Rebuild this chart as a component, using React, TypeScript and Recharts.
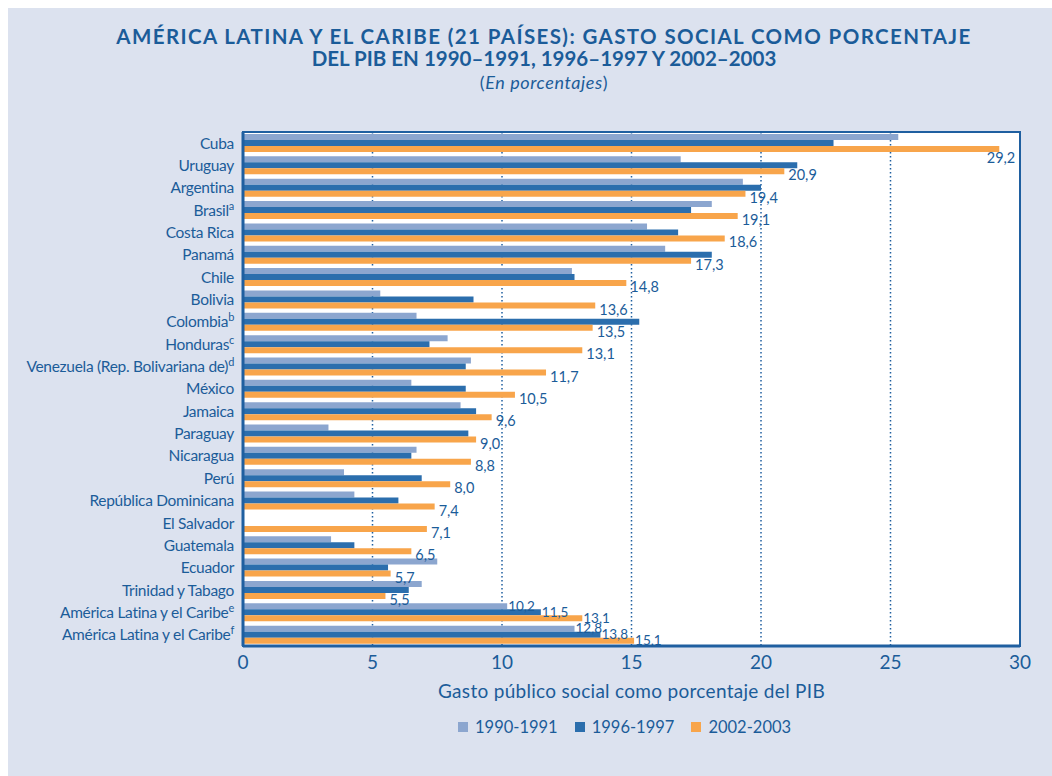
import React from 'react';
import { BarChart, Bar, XAxis, YAxis, CartesianGrid, LabelList, ReferenceArea } from 'recharts';

const countries = [
  'Cuba', 'Uruguay', 'Argentina', 'Brasil', 'Costa Rica', 'Panamá', 'Chile', 'Bolivia',
  'Colombia', 'Honduras', 'Venezuela (Rep. Bolivariana de)', 'México', 'Jamaica', 'Paraguay',
  'Nicaragua', 'Perú', 'República Dominicana', 'El Salvador', 'Guatemala', 'Ecuador',
  'Trinidad y Tabago', 'América Latina y el Caribe', 'América Latina y el Caribe',
];
const notes = ['', '', '', 'a', '', '', '', '', 'b', 'c', 'd', '', '', '', '', '', '', '', '', '', '', 'e', 'f'];

const gasto1990 = [25.3, 16.9, 19.3, 18.1, 15.6, 16.3, 12.7, 5.3, 6.7, 7.9, 8.8, 6.5, 8.4, 3.3, 6.7, 3.9, 4.3, null, 3.4, 7.5, 6.9, 10.2, 12.8];
const gasto1996 = [22.8, 21.4, 20.0, 17.3, 16.8, 18.1, 12.8, 8.9, 15.3, 7.2, 8.6, 8.6, 9.0, 8.7, 6.5, 6.9, 6.0, null, 4.3, 5.6, 6.4, 11.5, 13.8];
const gasto2002 = [29.2, 20.9, 19.4, 19.1, 18.6, 17.3, 14.8, 13.6, 13.5, 13.1, 11.7, 10.5, 9.6, 9.0, 8.8, 8.0, 7.4, 7.1, 6.5, 5.7, 5.5, 13.1, 15.1];

const seriesNames = ['1990-1991', '1996-1997', '2002-2003'];
const xTicks = [0, 5, 10, 15, 20, 25, 30];

const BLUE_TEXT = '#1b5c99';
const AXIS = '#1f5fa0';
const COLORS = ['#8ca6cf', '#2b6ead', '#f8a54b'];
const FONT = 'Lato, "Noto Sans", sans-serif';

// the two regional averages get a label on every series
const data = countries.map((name, i) => {
  const regional = notes[i] === 'e' || notes[i] === 'f';
  return {
    key: `${name}|${notes[i]}`,
    a: gasto1990[i],
    b: gasto1996[i],
    c: gasto2002[i],
    aReg: regional ? gasto1990[i] : null,
    bReg: regional ? gasto1996[i] : null,
    cReg: regional ? gasto2002[i] : null,
    cCountry: regional ? null : gasto2002[i],
  };
});

const fmt = (v: number) => v.toFixed(1).replace('.', ',');

const CountryTick = (props: any) => {
  const { x, y, payload } = props;
  const [name, note] = String(payload.value).split('|');
  return (
    <text x={x} y={y} dy="0.35em" textAnchor="end" fill={BLUE_TEXT} fontSize={15.5} letterSpacing={-0.3} fontFamily={FONT}>
      {name}
      {note ? <tspan dy={-6} fontSize={11}>{note}</tspan> : null}
    </text>
  );
};

const regionalLabel = (props: any) => {
  const { x, y, width, height, value } = props;
  if (value == null) return null;
  return (
    <text x={Number(x) + Number(width) + 1} y={Number(y) + Number(height) / 2} dy="0.35em" fill={BLUE_TEXT} fontSize={13.5} fontFamily={FONT}>
      {fmt(value)}
    </text>
  );
};

const countryLabel = (props: any) => {
  const { x, y, width, height, value } = props;
  if (value == null) return null;
  const endX = Number(x) + Number(width);
  const midY = Number(y) + Number(height) / 2;
  if (value > 28) {
    return (
      <text x={endX + 16} y={midY + 9} dy="0.35em" textAnchor="end" fill={BLUE_TEXT} fontSize={14.5} fontFamily={FONT}>
        {fmt(value)}
      </text>
    );
  }
  return (
    <text x={endX + 4} y={midY + 4} dy="0.35em" fill={BLUE_TEXT} fontSize={14.5} fontFamily={FONT}>
      {fmt(value)}
    </text>
  );
};

export default function App() {
  return (
    <div
      style={{
        position: 'absolute',
        left: 8,
        top: 8,
        width: 1044,
        height: 768,
        background: '#dce2ef',
        fontFamily: FONT,
        color: BLUE_TEXT,
      }}
    >
      <div style={{ position: 'absolute', top: 17, left: 14, width: 1044, textAlign: 'center' }}>
        <div style={{ fontWeight: 700, fontSize: 20.5, lineHeight: '23px', letterSpacing: 1.4 }}>
          AMÉRICA LATINA Y EL CARIBE (21 PAÍSES): GASTO SOCIAL COMO PORCENTAJE
        </div>
        <div style={{ fontWeight: 700, fontSize: 20.5, lineHeight: '21px' }}>
          DEL PIB EN 1990–1991, 1996–1997 Y 2002–2003
        </div>
        <div style={{ fontSize: 18, lineHeight: '27px', letterSpacing: 0.6 }}>
          (<i>En porcentajes</i>)
        </div>
      </div>

      <div style={{ position: 'absolute', left: 0, top: 0 }}>
        <BarChart
          layout="vertical"
          width={1044}
          height={768}
          data={data}
          margin={{ top: 124, right: 32, left: 0, bottom: 100 }}
          barSize={6}
          barGap={0}
        >
          <CartesianGrid
            horizontal={false}
            fill="#ffffff"
            stroke={AXIS}
            strokeWidth={1.5}
            strokeDasharray="1.5 2.5"
          />
          <XAxis
            type="number"
            domain={[0, 30]}
            ticks={xTicks}
            tickLine={false}
            tickSize={0}
            tickMargin={10}
            axisLine={{ stroke: AXIS, strokeWidth: 3 }}
            tick={{ fill: BLUE_TEXT, fontSize: 19, fontFamily: FONT }}
            height={30}
            label={{
              value: 'Gasto público social como porcentaje del PIB',
              position: 'bottom',
              offset: 9,
              fill: BLUE_TEXT,
              fontSize: 19,
              letterSpacing: 0.3,
              fontFamily: FONT,
            }}
          />
          <YAxis
            type="category"
            dataKey="key"
            width={235}
            interval={0}
            tickLine={false}
            tickMargin={3}
            axisLine={{ stroke: AXIS, strokeWidth: 3 }}
            tick={<CountryTick />}
          />
          <ReferenceArea x1={0} x2={30} fill="none" stroke={AXIS} strokeWidth={2} />
          <Bar dataKey="a" name={seriesNames[0]} fill={COLORS[0]} isAnimationActive={false}>
            <LabelList dataKey="aReg" content={regionalLabel} />
          </Bar>
          <Bar dataKey="b" name={seriesNames[1]} fill={COLORS[1]} isAnimationActive={false}>
            <LabelList dataKey="bReg" content={regionalLabel} />
          </Bar>
          <Bar dataKey="c" name={seriesNames[2]} fill={COLORS[2]} isAnimationActive={false}>
            <LabelList dataKey="cReg" content={regionalLabel} />
            <LabelList dataKey="cCountry" content={countryLabel} />
          </Bar>
        </BarChart>
      </div>

      <div
        style={{
          position: 'absolute',
          top: 709,
          left: 450,
          display: 'flex',
          fontSize: 16.5,
        }}
      >
        {seriesNames.map((s, i) => (
          <div key={s} style={{ display: 'flex', alignItems: 'center', marginRight: 17 }}>
            <span style={{ width: 10, height: 10, background: COLORS[i], display: 'inline-block', marginRight: 7 }} />
            {s}
          </div>
        ))}
      </div>
    </div>
  );
}
